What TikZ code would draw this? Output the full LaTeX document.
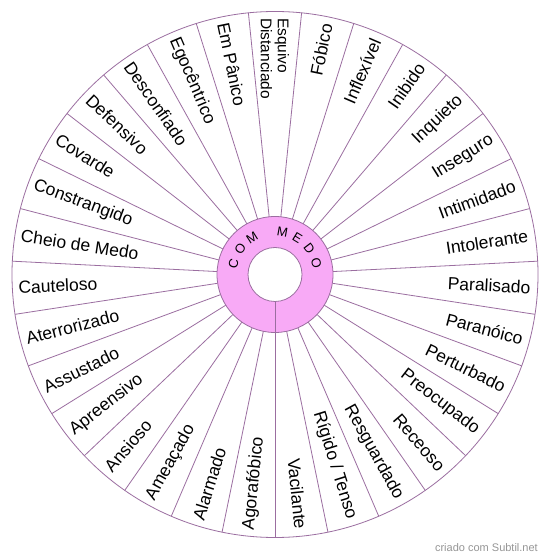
\documentclass[tikz,border=0pt]{standalone}
\usepackage{fontspec}
\setmainfont{Liberation Sans}
\definecolor{lineP}{RGB}{155,110,160}
\definecolor{ringP}{RGB}{248,170,246}
\definecolor{markG}{RGB}{150,150,150}
\newcommand\wheelR[2]{%
  \pgfmathsetmacro\wa{90-#1*360/31}%
  \node[lbl, anchor=east, rotate=\wa] (r#1) at ([shift={(\wa:256)}]c) {#2};}
\newcommand\wheelL[2]{%
  \pgfmathsetmacro\wa{90-#1*360/31}%
  \pgfmathsetmacro\wb{\wa+180}%
  \node[lbl, anchor=west, rotate=\wb] (l#1) at ([shift={(\wa:257)}]c) {#2};}
\begin{document}
\begin{tikzpicture}[x=1pt,y=1pt,
  spoke/.style={draw=lineP,line width=0.8pt},
  lbl/.style={font=\fontsize{17.5}{19}\selectfont, inner sep=0pt},
  lbltwo/.style={font=\fontsize{15.5}{17}\selectfont, inner sep=0pt, align=left},
  ctr/.style={font=\fontsize{13}{14}\selectfont, inner sep=0pt},
  wmark/.style={font=\fontsize{11}{12}\selectfont, text=markG, inner sep=0pt}]
\useasboundingbox (0,0) rectangle (550,560);
\fill[white] (0,0) rectangle (550,560);
\coordinate (c) at (275,285.5);
% outer circle and spokes
\draw[spoke] (c) circle (263);
\foreach \k in {0,...,30} {
  \pgfmathsetmacro\sa{90+180/31+\k*360/31}
  \draw[spoke] ([shift={(\sa:58)}]c) -- ([shift={(\sa:263)}]c);
}
% central ring
\draw[spoke, fill=ringP] (c) circle (58);
\draw[spoke, fill=white] (c) circle (27);
\draw[spoke] ([shift={(270:27)}]c) -- ([shift={(270:58)}]c);
% centre text
\foreach \ang/\ch in {165/C,143.7/O,122.4/M,79.8/M,58.5/E,37.2/D,15.9/O} {
  \pgfmathsetmacro\rt{\ang-90}
  \node[ctr, rotate=\rt] at ([shift={(\ang:43)}]c) {\ch};
}
% labels, right half
\wheelR{1}{Fóbico}
\wheelR{2}{Inflexível}
\wheelR{3}{Inibido}
\wheelR{4}{Inquieto}
\wheelR{5}{Inseguro}
\wheelR{6}{Intimidado}
\wheelR{7}{Intolerante}
\wheelR{8}{Paralisado}
\wheelR{9}{Paranóico}
\wheelR{10}{Perturbado}
\wheelR{11}{Preocupado}
\wheelR{12}{Receoso}
\wheelR{13}{Resguardado}
\wheelR{14}{Rígido / Tenso}
\wheelR{15}{Vacilante}
% labels, left half
\wheelL{16}{Agorafóbico}
\wheelL{17}{Alarmado}
\wheelL{18}{Ameaçado}
\wheelL{19}{Ansioso}
\wheelL{20}{Apreensivo}
\wheelL{21}{Assustado}
\wheelL{22}{Aterrorizado}
\wheelL{23}{Cauteloso}
\wheelL{24}{Cheio de Medo}
\wheelL{25}{Constrangido}
\wheelL{26}{Covarde}
\wheelL{27}{Defensivo}
\wheelL{28}{Desconfiado}
\wheelL{29}{Egocêntrico}
\wheelL{30}{Em Pânico}
\node[lbltwo, anchor=west, rotate=-90] (l0) at ([shift={(90:256.5)}]c) {Esquivo\\Distanciado};
% watermark
\node[wmark, anchor=east] (wm) at (538,12) {criado com Subtil.net};
\end{tikzpicture}
\end{document}
